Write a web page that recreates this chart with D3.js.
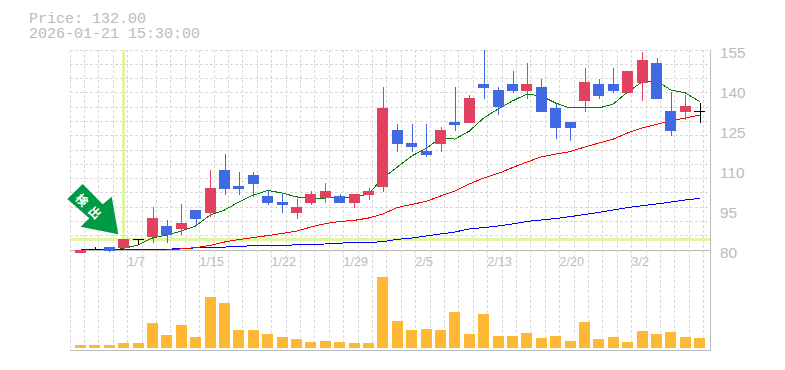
<!DOCTYPE html>
<html lang="en">
<head>
	<meta charset="UTF-8">
	<title>Chart</title>
	<style>
		html, body { margin: 0; padding: 0; background: #fff; overflow: hidden; }
		svg { display: block; }
		.info { font-family: "Liberation Mono", monospace; font-size: 15px; fill: #bbb; }
		.axis text { font-family: "Liberation Sans", Arial, sans-serif; fill: #bbb; }
		.axis .domain, .axis .tick line { display: none; }
	</style>
</head>
<body>
	<script src="https://cdnjs.cloudflare.com/ajax/libs/d3/7.8.5/d3.min.js"></script>
	<script>
		var dates = ["12/29","12/30","1/5","1/6","1/7","1/8","1/9","1/13","1/14","1/15","1/16","1/19","1/20","1/21","1/22","1/23","1/26","1/27","1/28","1/29","1/30","2/2","2/3","2/4","2/5","2/6","2/9","2/10","2/12","2/13","2/16","2/17","2/18","2/19","2/20","2/24","2/25","2/26","2/27","3/2","3/3","3/4","3/5","3/6"];
		var opens = [78.9,80.2,81.1,80.75,84,84.8,89,87.9,95,93.9,110,104,108.1,100.25,98,93.9,97.6,99.5,100.25,97.6,100.6,103.6,125,120.1,117.1,119.75,128,127.6,142.25,140,142.25,139.6,141.1,133.25,128,135.9,142.25,142.25,138.9,142.6,150.1,132.1,131.75,132];
		var closes = [80,80.2,79.6,84.1,84,92,85.6,90.1,91.6,103.25,102.9,102.9,104.75,97.6,96.9,96.1,101,102.1,97.6,101,102.1,133.25,119.75,118.6,115.6,125,126.9,137,140.75,133.6,139.6,142.25,131.75,125.75,125.75,143,137.75,139.6,147.1,151.25,136.6,124.6,134,132];
		var highs = [80,81,81.1,84.1,84,96.1,91.25,97.25,95,110,116,109.25,109.25,102.5,101.3,99.1,102.1,105.1,101,101,103.25,141.1,127.25,127.25,127.25,126.1,141.1,138.1,155,141.1,147.1,150.1,144.1,135.1,128,148.25,144.1,148.25,147.1,154.25,152,139.25,138.1,135.1];
		var lows = [78.9,80,79.6,80,81.9,82.6,82.6,85.6,89,92.4,100.6,100.6,99.9,96.9,93.9,91.6,96.9,97.6,97.6,95.75,98.75,101.75,116.75,116.75,114.9,116.75,124.6,127.6,136.6,130.6,138.9,136.6,131.75,121.6,120.9,131.75,136.6,138.9,138.9,135.9,136.6,122.75,128.75,127.6];
		var volumes = [3,3,3,5,5,25,13,23,11,51,45,18,18,14,11,9,6,7,6,5,5,71,27,18,19,18,36,14,34,12,12,15,10,12,7,26,9,11,6,17,14,16,11,10];
		var ma5 = [null,null,79.6,80.6,81.9,84.5,85.6,87.1,89,93.1,95,98,100.6,102.3,101.4,99.9,99.5,99.5,99.7,99.7,101,107,111.1,115.25,118.1,122,121.6,124.6,129.5,132.9,135.9,138.5,137.75,135.1,133.25,133.6,133.25,134.75,139.25,143,143.4,140,138.9,135.7];
		var ma25 = [null,null,null,null,null,null,80,80.4,80.9,81.7,83,83.9,84.7,85.4,86.2,87.1,88.6,89.9,90.7,91.1,92,93.5,95.9,97.1,98.2,100.25,102.1,104.75,107,108.7,110.9,113,114.9,116,116.9,118.6,120.1,121.6,123.9,125.75,127.1,128.4,129.5,130.6];
		var ma75 = [80.2,80.2,80.2,80.2,80.2,80.2,80.3,80.5,80.8,81,81.1,81.3,81.65,81.8,81.8,81.9,82.2,82.25,82.6,82.7,82.85,83.1,84,84.5,85.25,86,86.75,87.9,88.4,89,89.75,90.7,91.25,91.8,92.5,93.3,94.1,95,95.9,96.6,97.25,98,98.75,99.4];
		var priceTicks = [155,140,125,110,95,80];
		var dateTicks = ["1/7","1/15","1/22","1/29","2/5","2/13","2/20","3/2"];
		var infoLines = ["Price: 132.00", "2026-01-21 15:30:00"];
		var signalDate = "1/6", signalPrice = 84;

		var width = 785,
			height = 370,
			left = 70,
			right = 710,
			top_ = 50,
			priceBottom = 250,
			volBottom = 350,
			step = 14.4,
			barWidth = 11,
			barOffset = 10.5;

		var svg = d3.select("body").append("svg")
					.attr("width", width)
					.attr("height", height);

		// x is the left edge of each day's slot, bars sit a bit right of it
		var x = d3.scalePoint()
					.domain(dates)
					.range([left, left + step * (dates.length - 1)]);
		var y = d3.scaleLinear()
					.domain([80, 155])
					.range([priceBottom, top_]);
		var yVol = d3.scaleLinear()
					.domain([0, d3.max(volumes)])
					.range([348, 277]);
		var rowY = d3.scaleLinear()
					.domain([0, 14])
					.range([top_, priceBottom]);

		function cx(i) {
			return x(dates[i]) + barOffset;
		}

		// grid
		var grid = svg.append("g")
					.attr("stroke", "#d9d9d9")
					.attr("stroke-dasharray", "3,2")
					.attr("shape-rendering", "crispEdges");
		grid.selectAll("line.v")
			.data(dates.concat("end"))
			.enter().append("line")
			.attr("class", "v")
			.attr("x1", function(d, i) { return left + step * i; })
			.attr("x2", function(d, i) { return left + step * i; })
			.attr("y1", top_)
			.attr("y2", volBottom);
		grid.selectAll("line.h")
			.data(d3.range(0, 14))
			.enter().append("line")
			.attr("class", "h")
			.attr("x1", left)
			.attr("x2", right)
			.attr("y1", function(d) { return rowY(d); })
			.attr("y2", function(d) { return rowY(d); });

		// signal cross hair
		svg.append("line")
			.attr("x1", cx(dates.indexOf(signalDate)))
			.attr("x2", cx(dates.indexOf(signalDate)))
			.attr("y1", top_)
			.attr("y2", priceBottom)
			.attr("stroke", "#e2f5a4")
			.attr("stroke-width", 3)
			.attr("shape-rendering", "crispEdges");
		svg.append("line")
			.attr("x1", left)
			.attr("x2", right)
			.attr("y1", y(signalPrice))
			.attr("y2", y(signalPrice))
			.attr("stroke", "#e2f5a4")
			.attr("stroke-width", 3)
			.attr("shape-rendering", "crispEdges");

		// frame
		var frame = svg.append("g")
					.attr("stroke", "#bbb")
					.attr("shape-rendering", "crispEdges");
		frame.append("line").attr("x1", left).attr("x2", right).attr("y1", priceBottom).attr("y2", priceBottom);
		frame.append("line").attr("x1", left).attr("x2", right + 1).attr("y1", volBottom).attr("y2", volBottom);
		frame.append("line").attr("x1", right).attr("x2", right).attr("y1", top_).attr("y2", volBottom);

		// volume
		svg.selectAll("rect.vol")
			.data(volumes)
			.enter().append("rect")
			.attr("class", "vol")
			.attr("x", function(d, i) { return Math.round(cx(i) - barWidth / 2); })
			.attr("y", function(d) { return yVol(d); })
			.attr("width", barWidth)
			.attr("height", function(d) { return yVol(0) - yVol(d); })
			.attr("fill", "#ffb833");

		// moving averages
		function drawLine(values, color) {
			var line = d3.line()
						.defined(function(d) { return d !== null; })
						.x(function(d, i) { return cx(i); })
						.y(function(d) { return y(d); });
			svg.append("path")
				.attr("d", line(values))
				.attr("fill", "none")
				.attr("stroke", color)
				.attr("stroke-width", 1)
				.attr("shape-rendering", "crispEdges");
		}
		drawLine(ma5, "#008000");
		drawLine(ma75, "#0000ff");
		drawLine(ma25, "#ff0000");

		// candles
		function candleColor(i) {
			if (closes[i] > opens[i]) return "#e2425f";
			if (closes[i] < opens[i]) return "#4169e1";
			return "#000";
		}
		var candles = svg.selectAll("g.candle")
					.data(dates)
					.enter().append("g")
					.attr("class", "candle")
					.attr("shape-rendering", "crispEdges");
		candles.append("line")
			.attr("x1", function(d, i) { return Math.round(cx(i)) + 0.5; })
			.attr("x2", function(d, i) { return Math.round(cx(i)) + 0.5; })
			.attr("y1", function(d, i) { return y(highs[i]); })
			.attr("y2", function(d, i) { return y(lows[i]); })
			.attr("stroke", function(d, i) { return candleColor(i); });
		candles.append("rect")
			.attr("x", function(d, i) { return Math.round(cx(i) - barWidth / 2); })
			.attr("y", function(d, i) { return y(Math.max(opens[i], closes[i])); })
			.attr("width", barWidth)
			.attr("height", function(d, i) { return Math.max(1, Math.abs(y(opens[i]) - y(closes[i]))); })
			.attr("fill", function(d, i) { return candleColor(i); });

		// axes
		var xAxis = d3.axisBottom(x)
					.tickValues(dateTicks)
					.tickSize(0)
					.tickPadding(0)
					.offset(0);
		svg.append("g")
			.attr("class", "axis x-axis")
			.attr("transform", "translate(0," + 257 + ")")
			.call(xAxis)
			.selectAll("text")
			.attr("text-anchor", "start")
			.attr("font-size", "12.5px");

		var yAxis = d3.axisRight(y)
					.tickValues(priceTicks)
					.tickSize(0)
					.tickPadding(0)
					.offset(0);
		svg.append("g")
			.attr("class", "axis y-axis")
			.attr("transform", "translate(720,3)")
			.call(yAxis)
			.selectAll("text")
			.attr("font-size", "15.4px");

		// info text
		svg.selectAll("text.info")
			.data(infoLines)
			.enter().append("text")
			.attr("class", "info")
			.attr("x", 29)
			.attr("y", function(d, i) { return 23 + i * 15; })
			.text(function(d) { return d; });

		// arrow badge
		svg.append("path")
			.attr("d", "M67.3,199 L82.7,184 L102.7,204.3 L111.7,196.7 L118.3,234.3 L80.7,226.7 L89.3,218.3 Z")
			.attr("fill", "#009944");
		svg.selectAll("text.badge")
			.data(["検", "出"])
			.enter().append("text")
			.attr("class", "badge")
			.attr("transform", function(d, i) {
				return "translate(" + (82 + i * 13) + "," + (200 + i * 12.5) + ") rotate(45)";
			})
			.attr("text-anchor", "middle")
			.attr("dy", "0.38em")
			.attr("font-family", "'Noto Sans CJK JP', sans-serif")
			.attr("font-weight", "bold")
			.attr("font-size", "12px")
			.attr("fill", "#fff")
			.text(function(d) { return d; });
	</script>
</body>
</html>
